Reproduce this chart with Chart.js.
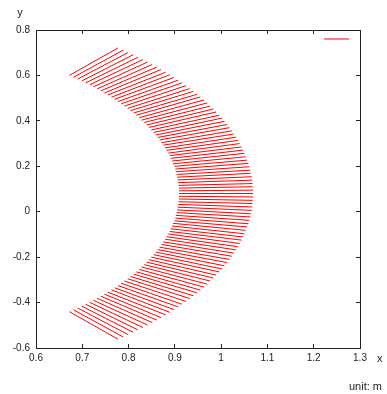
<!DOCTYPE html>
<html>
<head>
<meta charset="utf-8">
<script src="https://cdn.jsdelivr.net/npm/chart.js@4.4.0/dist/chart.umd.min.js"></script>
<style>
  html, body { margin: 0; padding: 0; background: #fff; }
  #wrap { width: 387px; height: 394px; }
</style>
</head>
<body>
<div id="wrap"><canvas id="chart" width="387" height="394"></canvas></div>
<script>
// one red segment per sample, inner end -> outer end (metres)
const xStart = [
  0.672, 0.681, 0.690, 0.699, 0.707, 0.716, 0.724, 0.732, 0.740, 0.748,
  0.755, 0.763, 0.770, 0.777, 0.784, 0.791, 0.798, 0.804, 0.811, 0.817,
  0.823, 0.828, 0.834, 0.839, 0.844, 0.849, 0.854, 0.859, 0.863, 0.867,
  0.871, 0.875, 0.879, 0.882, 0.886, 0.889, 0.891, 0.894, 0.896, 0.899,
  0.901, 0.902, 0.904, 0.905, 0.906, 0.907, 0.908, 0.909, 0.909, 0.909,
  0.909, 0.909, 0.908, 0.907, 0.906, 0.905, 0.904, 0.902, 0.901, 0.899,
  0.896, 0.894, 0.891, 0.889, 0.886, 0.882, 0.879, 0.875, 0.871, 0.867,
  0.863, 0.859, 0.854, 0.849, 0.844, 0.839, 0.834, 0.828, 0.823, 0.817,
  0.811, 0.804, 0.798, 0.791, 0.784, 0.777, 0.770, 0.763, 0.755, 0.748,
  0.740, 0.732, 0.724, 0.716, 0.707, 0.699, 0.690, 0.681, 0.672
];
const yStart = [
  0.600, 0.592, 0.584, 0.576, 0.567, 0.559, 0.550, 0.541, 0.532, 0.523,
  0.514, 0.504, 0.495, 0.485, 0.475, 0.465, 0.455, 0.445, 0.435, 0.425,
  0.414, 0.403, 0.393, 0.382, 0.371, 0.360, 0.349, 0.338, 0.327, 0.316,
  0.304, 0.293, 0.281, 0.270, 0.258, 0.247, 0.235, 0.223, 0.211, 0.200,
  0.188, 0.176, 0.164, 0.152, 0.140, 0.128, 0.116, 0.104, 0.092, 0.080,
  0.068, 0.056, 0.044, 0.032, 0.020, 0.008, -0.004, -0.016, -0.028, -0.040,
  -0.051, -0.063, -0.075, -0.087, -0.098, -0.110, -0.121, -0.133, -0.144, -0.156,
  -0.167, -0.178, -0.189, -0.200, -0.211, -0.222, -0.233, -0.243, -0.254, -0.265,
  -0.275, -0.285, -0.295, -0.305, -0.315, -0.325, -0.335, -0.344, -0.354, -0.363,
  -0.372, -0.381, -0.390, -0.399, -0.407, -0.416, -0.424, -0.432, -0.440
];
const xEnd = [
  0.777, 0.788, 0.799, 0.810, 0.820, 0.831, 0.841, 0.851, 0.861, 0.870,
  0.880, 0.889, 0.898, 0.907, 0.915, 0.924, 0.932, 0.940, 0.948, 0.955,
  0.963, 0.970, 0.976, 0.983, 0.989, 0.996, 1.002, 1.007, 1.013, 1.018,
  1.023, 1.027, 1.032, 1.036, 1.040, 1.044, 1.047, 1.050, 1.053, 1.056,
  1.059, 1.061, 1.063, 1.064, 1.066, 1.067, 1.068, 1.068, 1.069, 1.069,
  1.069, 1.068, 1.068, 1.067, 1.066, 1.064, 1.063, 1.061, 1.059, 1.056,
  1.053, 1.050, 1.047, 1.044, 1.040, 1.036, 1.032, 1.027, 1.023, 1.018,
  1.013, 1.007, 1.002, 0.996, 0.989, 0.983, 0.976, 0.970, 0.963, 0.955,
  0.948, 0.940, 0.932, 0.924, 0.915, 0.907, 0.898, 0.889, 0.880, 0.870,
  0.861, 0.851, 0.841, 0.831, 0.820, 0.810, 0.799, 0.788, 0.777
];
const yEnd = [
  0.721, 0.711, 0.701, 0.691, 0.680, 0.670, 0.659, 0.648, 0.637, 0.626,
  0.614, 0.603, 0.591, 0.579, 0.567, 0.555, 0.542, 0.530, 0.517, 0.505,
  0.492, 0.479, 0.465, 0.452, 0.439, 0.425, 0.412, 0.398, 0.384, 0.370,
  0.356, 0.342, 0.328, 0.314, 0.300, 0.285, 0.271, 0.257, 0.242, 0.227,
  0.213, 0.198, 0.183, 0.169, 0.154, 0.139, 0.124, 0.110, 0.095, 0.080,
  0.065, 0.050, 0.036, 0.021, 0.006, -0.009, -0.023, -0.038, -0.053, -0.067,
  -0.082, -0.097, -0.111, -0.125, -0.140, -0.154, -0.168, -0.182, -0.196, -0.210,
  -0.224, -0.238, -0.252, -0.265, -0.279, -0.292, -0.305, -0.319, -0.332, -0.345,
  -0.357, -0.370, -0.382, -0.395, -0.407, -0.419, -0.431, -0.443, -0.454, -0.466,
  -0.477, -0.488, -0.499, -0.510, -0.520, -0.531, -0.541, -0.551, -0.561
];

const xTicks = [0.6, 0.7, 0.8, 0.9, 1, 1.1, 1.2, 1.3];
const yTicks = [-0.6, -0.4, -0.2, 0, 0.2, 0.4, 0.6, 0.8];

const FONT = '"Liberation Sans", Arial, sans-serif';
const AXIS_COLOR = '#222';

// gaps (NaN) split the single dataset into separate segments
const segments = [];
for (let i = 0; i < xStart.length; i++) {
  segments.push({ x: xStart[i], y: yStart[i] });
  segments.push({ x: xEnd[i], y: yEnd[i] });
  segments.push({ x: NaN, y: NaN });
}

function axis(pos, ticks, showLabels, padding) {
  return {
    type: 'linear',
    position: pos,
    min: ticks[0],
    max: ticks[ticks.length - 1],
    afterBuildTicks: s => { s.ticks = ticks.map(v => ({ value: v })); },
    ticks: {
      display: showLabels,
      padding: padding,
      color: AXIS_COLOR,
      font: { family: FONT, size: 10 },
      callback: v => String(v)
    },
    grid: {
      drawOnChartArea: false,
      drawTicks: true,
      tickLength: -4,
      color: AXIS_COLOR,
      lineWidth: 1
    },
    border: { display: true, color: AXIS_COLOR, width: 1 }
  };
}

const scales = {
  x: Object.assign(axis('bottom', xTicks, true, 8), { afterFit: s => { s.height = 46; } }),
  y: Object.assign(axis('left', yTicks, true, 10), { afterFit: s => { s.width = 36; } }),
  x2: Object.assign(axis('top', xTicks, false, 0), { afterFit: s => { s.height = 30; } }),
  y2: Object.assign(axis('right', yTicks, false, 0), { afterFit: s => { s.width = 27; } })
};

const extras = {
  id: 'extras',
  afterDraw(chart) {
    const { ctx, chartArea } = chart;
    ctx.save();
    // legend sample (no label text)
    ctx.strokeStyle = '#ff0000';
    ctx.lineWidth = 1;
    ctx.beginPath();
    ctx.moveTo(chartArea.right - 36, chartArea.top + 9);
    ctx.lineTo(chartArea.right - 11, chartArea.top + 9);
    ctx.stroke();
    // axis names and unit note
    ctx.fillStyle = AXIS_COLOR;
    ctx.font = '11px ' + FONT;
    ctx.textBaseline = 'middle';
    ctx.textAlign = 'center';
    ctx.fillText('y', chartArea.left - 16, chartArea.top - 17);
    ctx.textAlign = 'left';
    ctx.fillText('x', chartArea.right + 17, chartArea.bottom + 11);
    ctx.textBaseline = 'alphabetic';
    ctx.fillText('unit: m', chartArea.right - 11, 390);
    ctx.restore();
  }
};

new Chart(document.getElementById('chart').getContext('2d'), {
  type: 'scatter',
  data: {
    datasets: [{
      label: '',
      data: segments,
      showLine: true,
      spanGaps: false,
      borderColor: '#ff0000',
      borderWidth: 1,
      pointRadius: 0,
      pointHoverRadius: 0
    }]
  },
  options: {
    responsive: false,
    animation: false,
    devicePixelRatio: 1,
    layout: { padding: 0 },
    scales: scales,
    plugins: {
      legend: { display: false },
      tooltip: { enabled: false }
    }
  },
  plugins: [extras]
});
</script>
</body>
</html>
